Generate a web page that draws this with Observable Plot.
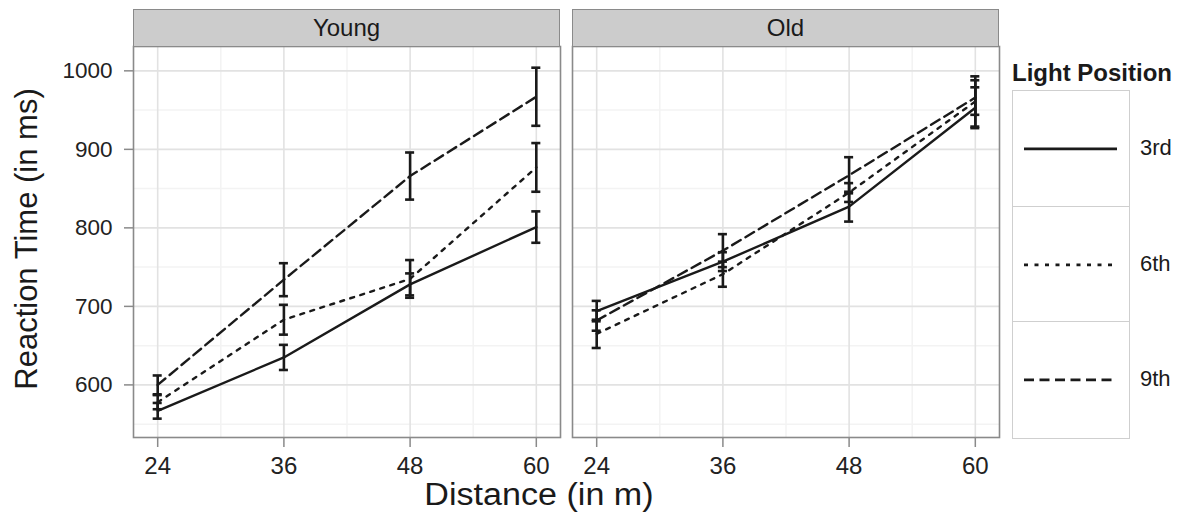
<!DOCTYPE html>
<html><head><meta charset="utf-8">
<script src="https://cdn.jsdelivr.net/npm/d3@7"></script>
<script src="https://cdn.jsdelivr.net/npm/@observablehq/plot@0.6"></script>
<style>
body{margin:0;background:#fff;font-family:"Liberation Sans",Arial,sans-serif;}
#wrap{position:relative;width:1190px;height:517px;overflow:hidden;background:#fff;}
#wrap svg{position:absolute;left:0;top:0;}
.strip{position:absolute;box-sizing:border-box;background:#cccccc;border:1.5px solid #8a8a8a;font-size:24px;color:#1a1a1a;display:flex;align-items:center;justify-content:center;}
.ttl{position:absolute;white-space:nowrap;color:#1a1a1a;}
.key{position:absolute;box-sizing:border-box;border:1.5px solid #cfcfcf;background:#fff;}
.klab{position:absolute;font-size:22px;color:#1a1a1a;transform:translateY(-50%);}
</style></head><body><div id="wrap"></div><script>
// ---- data ----
const groups = ["Young", "Old"];
const positions = ["3rd", "6th", "9th"];
const distances = [24, 36, 48, 60];
const young3rd = [567, 635, 728, 801];
const young3rdErr = [10, 16, 14, 20];
const young6th = [578, 683, 735, 877];
const young6thErr = [9, 19, 24, 31];
const young9th = [600, 734, 866, 967];
const young9thErr = [12, 21, 30, 37];
const old3rd = [694, 757, 827, 953];
const old3rdErr = [13, 12, 19, 26];
const old6th = [665, 741, 845, 961];
const old6thErr = [18, 16, 12, 32];
const old9th = [682, 771, 867, 966];
const old9thErr = [13, 21, 23, 22];
const yTicks = [600, 700, 800, 900, 1000];
const yMinor = [550, 650, 750, 850, 950];
const xMinor = [30, 42, 54];

const rows = [];
function add(group, position, means, errs) {
  distances.forEach((d, i) => rows.push({group, position, distance: d, rt: means[i], lo: means[i] - errs[i], hi: means[i] + errs[i]}));
}
add("Young", "3rd", young3rd, young3rdErr);
add("Young", "6th", young6th, young6thErr);
add("Young", "9th", young9th, young9thErr);
add("Old", "3rd", old3rd, old3rdErr);
add("Old", "6th", old6th, old6thErr);
add("Old", "9th", old9th, old9thErr);

const dash = {"3rd": null, "6th": "4,6.5", "9th": "10,5.5"};
const ink = "#1a1a1a";
const cap = 0.43;

const W = 1005, H = 517;
const plot = Plot.plot({
  width: W, height: H,
  marginLeft: 133, marginRight: 5, marginTop: 46, marginBottom: 80,
  style: {fontFamily: "'Liberation Sans', Arial, sans-serif", fontSize: "22px", background: "transparent"},
  fx: {domain: groups, axis: null, paddingInner: 0.0273, paddingOuter: 0},
  x: {domain: [21.7, 62.3]},
  y: {domain: [533, 1031]},
  marks: [
    Plot.gridX(xMinor, {stroke: "#f3f3f3", strokeOpacity: 1, strokeWidth: 1.5}),
    Plot.gridY(yMinor, {stroke: "#f3f3f3", strokeOpacity: 1, strokeWidth: 1.5}),
    Plot.gridX(distances, {stroke: "#e2e2e2", strokeOpacity: 1, strokeWidth: 1.6}),
    Plot.gridY(yTicks, {stroke: "#e2e2e2", strokeOpacity: 1, strokeWidth: 1.6}),
    ...positions.map(p => Plot.line(rows.filter(r => r.position === p), {
      x: "distance", y: "rt", fx: "group", stroke: ink, strokeWidth: 2.4,
      strokeDasharray: dash[p]
    })),
    Plot.ruleX(rows, {x: "distance", y1: "lo", y2: "hi", fx: "group", stroke: ink, strokeWidth: 2.6}),
    Plot.ruleY(rows, {y: "lo", x1: d => d.distance - cap, x2: d => d.distance + cap, fx: "group", stroke: ink, strokeWidth: 2.6}),
    Plot.ruleY(rows, {y: "hi", x1: d => d.distance - cap, x2: d => d.distance + cap, fx: "group", stroke: ink, strokeWidth: 2.6}),
    Plot.frame({stroke: "#8a8a8a", strokeWidth: 1.6}),
    Plot.axisY(yTicks, {tickSize: 9, tickPadding: 12, stroke: "#8a8a8a", strokeWidth: 1.5, fill: "#222", fontSize: 22.5, tickFormat: d => String(d), label: null}),
    Plot.axisX(distances, {tickSize: 10, tickPadding: 9, stroke: "#8a8a8a", strokeWidth: 1.5, fill: "#222", fontSize: 24, tickFormat: d => String(d), label: null})
  ]
});

const wrap = document.getElementById("wrap");
wrap.appendChild(plot);

// facet strips placed from the fx scale
const fx = plot.scale("fx");
for (const g of groups) {
  const s = document.createElement("div");
  s.className = "strip";
  const left = fx.apply(g);
  s.style.left = (left) + "px";
  s.style.width = (fx.bandwidth) + "px";
  s.style.top = "9px";
  s.style.height = "38px";
  s.textContent = g;
  wrap.appendChild(s);
}

// axis titles
const yt = document.createElement("div");
yt.className = "ttl";
yt.textContent = "Reaction Time (in ms)";
yt.style.cssText += "left:27px;top:239px;font-size:31px;transform:translate(-50%,-50%) rotate(-90deg);";
wrap.appendChild(yt);
const xt = document.createElement("div");
xt.className = "ttl";
xt.textContent = "Distance (in m)";
xt.style.cssText += "left:539px;top:495px;font-size:31px;transform:translate(-50%,-50%) scaleX(1.1);";
wrap.appendChild(xt);

// legend
const lt = document.createElement("div");
lt.className = "ttl";
lt.textContent = "Light Position";
lt.style.cssText += "left:1012px;top:73px;font-size:24px;font-weight:bold;transform:translateY(-50%);";
wrap.appendChild(lt);
const keyH = 115.7;
positions.forEach((p, i) => {
  const k = document.createElement("div");
  k.className = "key";
  k.style.left = "1012px";
  k.style.top = (90 + i * keyH) + "px";
  k.style.width = "117.5px";
  k.style.height = (keyH + 1.5) + "px";
  const svgNS = "http://www.w3.org/2000/svg";
  const sv = document.createElementNS(svgNS, "svg");
  sv.setAttribute("width", "115");
  sv.setAttribute("height", String(keyH));
  sv.style.position = "absolute"; sv.style.left = "0"; sv.style.top = "0";
  const ln = document.createElementNS(svgNS, "line");
  ln.setAttribute("x1", "11"); ln.setAttribute("x2", "104");
  ln.setAttribute("y1", String(keyH / 2)); ln.setAttribute("y2", String(keyH / 2));
  ln.setAttribute("stroke", ink); ln.setAttribute("stroke-width", "2.6");
  if (dash[p]) ln.setAttribute("stroke-dasharray", dash[p]);
  sv.appendChild(ln);
  k.appendChild(sv);
  wrap.appendChild(k);
  const lab = document.createElement("div");
  lab.className = "klab";
  lab.textContent = p;
  lab.style.left = "1140px";
  lab.style.top = (90 + i * keyH + keyH / 2) + "px";
  wrap.appendChild(lab);
});
</script></body></html>
